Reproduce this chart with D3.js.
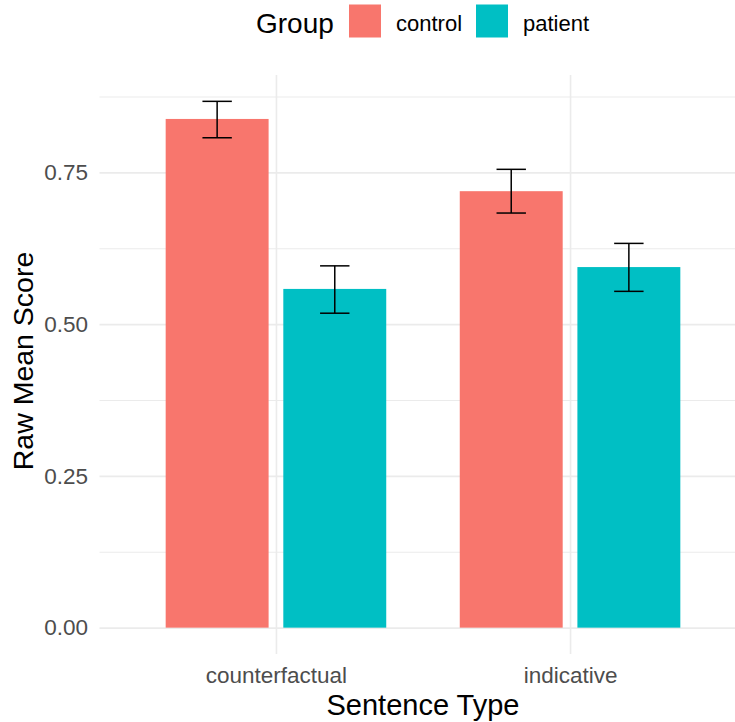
<!DOCTYPE html>
<html>
<head>
<meta charset="utf-8">
<script src="https://cdn.jsdelivr.net/npm/d3@7"></script>
<style>
  html, body { margin: 0; padding: 0; background: #ffffff; }
  svg { display: block; font-family: "Liberation Sans", Arial, sans-serif; }
</style>
</head>
<body>
<svg id="chart" width="735" height="722"></svg>
<script>
// ---- data ----
const categories = ["counterfactual", "indicative"];
const groups = ["control", "patient"];
const controlMean  = [0.838, 0.719];
const controlLower = [0.807, 0.683];
const controlUpper = [0.867, 0.755];
const patientMean  = [0.558, 0.594];
const patientLower = [0.518, 0.554];
const patientUpper = [0.596, 0.633];
const yTicks = [0, 0.25, 0.5, 0.75];
const yMinorTicks = [0.125, 0.375, 0.625, 0.875];
const groupColors = ["#F8766D", "#00BFC4"];

const rows = [];
categories.forEach((c, i) => {
  rows.push({cat: c, group: "control", mean: controlMean[i], lo: controlLower[i], hi: controlUpper[i]});
  rows.push({cat: c, group: "patient", mean: patientMean[i], lo: patientLower[i], hi: patientUpper[i]});
});

// ---- layout ----
const panel = {left: 99.5, right: 746.5, top: 75, bottom: 654};
const svg = d3.select("#chart");

const x = d3.scalePoint().domain(categories).range([panel.left, panel.right]).padding(0.6);
const step = x.step();
const xg = d3.scaleBand().domain(groups)
  .range([-0.4 * step, 0.4 * step]).paddingInner(0.125).paddingOuter(0.0625);
const y = d3.scaleLinear().domain([-0.0434, 0.9104]).range([panel.bottom, panel.top]);
const color = d3.scaleOrdinal().domain(groups).range(groupColors);

const grid = "#EBEBEB";
// minor horizontal gridlines
svg.append("g")
  .attr("transform", `translate(${panel.left},0)`)
  .call(d3.axisLeft(y).tickValues(yMinorTicks).tickSize(-(panel.right - panel.left)).tickFormat(""))
  .call(g => g.select(".domain").remove())
  .call(g => g.selectAll("line").attr("stroke", grid).attr("stroke-width", 1.1));
// major horizontal gridlines
svg.append("g")
  .attr("transform", `translate(${panel.left},0)`)
  .call(d3.axisLeft(y).tickValues(yTicks).tickSize(-(panel.right - panel.left)).tickFormat(""))
  .call(g => g.select(".domain").remove())
  .call(g => g.selectAll("line").attr("stroke", grid).attr("stroke-width", 1.6));
// vertical gridlines
svg.append("g")
  .attr("transform", `translate(0,${panel.top})`)
  .call(d3.axisBottom(x).tickSize(panel.bottom - panel.top).tickFormat(""))
  .call(g => g.select(".domain").remove())
  .call(g => g.selectAll("line").attr("stroke", grid).attr("stroke-width", 1.6));

// bars
svg.append("g").selectAll("rect").data(rows).join("rect")
  .attr("x", d => x(d.cat) + xg(d.group))
  .attr("width", xg.bandwidth())
  .attr("y", d => y(d.mean))
  .attr("height", d => y(0) - y(d.mean))
  .attr("fill", d => color(d.group));

// error bars
const capW = 0.1 * step;
const eb = svg.append("g").attr("stroke", "#000").attr("stroke-width", 1.5).attr("fill", "none");
rows.forEach(d => {
  const cx = x(d.cat) + xg(d.group) + xg.bandwidth() / 2;
  eb.append("line").attr("x1", cx).attr("x2", cx).attr("y1", y(d.hi)).attr("y2", y(d.lo));
  eb.append("line").attr("x1", cx - capW / 2).attr("x2", cx + capW / 2).attr("y1", y(d.hi)).attr("y2", y(d.hi));
  eb.append("line").attr("x1", cx - capW / 2).attr("x2", cx + capW / 2).attr("y1", y(d.lo)).attr("y2", y(d.lo));
});

// axes
const tickColor = "#4D4D4D";
svg.append("g")
  .attr("transform", `translate(${panel.left},0)`)
  .call(d3.axisLeft(y).tickValues(yTicks).tickSize(0).tickPadding(11.5).tickFormat(d3.format(".2f")))
  .call(g => g.select(".domain").remove())
  .call(g => g.selectAll("text").attr("fill", tickColor).style("font-size", "22.5px")
      .style("font-family", "'Liberation Sans', Arial, sans-serif"));
svg.append("g")
  .attr("transform", `translate(0,${panel.bottom})`)
  .call(d3.axisBottom(x).tickSize(0).tickPadding(13.2))
  .call(g => g.select(".domain").remove())
  .call(g => g.selectAll("text").attr("fill", tickColor).style("font-size", "22.5px")
      .style("font-family", "'Liberation Sans', Arial, sans-serif"));

// axis titles
svg.append("text")
  .attr("x", (panel.left + panel.right) / 2).attr("y", 715)
  .attr("text-anchor", "middle").attr("fill", "#000").style("font-size", "29px")
  .text("Sentence Type");
svg.append("text")
  .attr("transform", `translate(33,361) rotate(-90)`)
  .attr("text-anchor", "middle").attr("fill", "#000").style("font-size", "28.5px")
  .text("Raw Mean Score");

// legend
const legend = svg.append("g");
legend.append("text").attr("x", 256).attr("y", 33).attr("fill", "#000")
  .style("font-size", "28px").text("Group");
const legendX = [349, 476];
groups.forEach((gname, i) => {
  legend.append("rect").attr("x", legendX[i]).attr("y", 4.5).attr("width", 32).attr("height", 33)
    .attr("fill", color(gname));
  legend.append("text").attr("x", legendX[i] + 47).attr("y", 31).attr("fill", "#000")
    .style("font-size", "22px").text(gname);
});
</script>
</body>
</html>
